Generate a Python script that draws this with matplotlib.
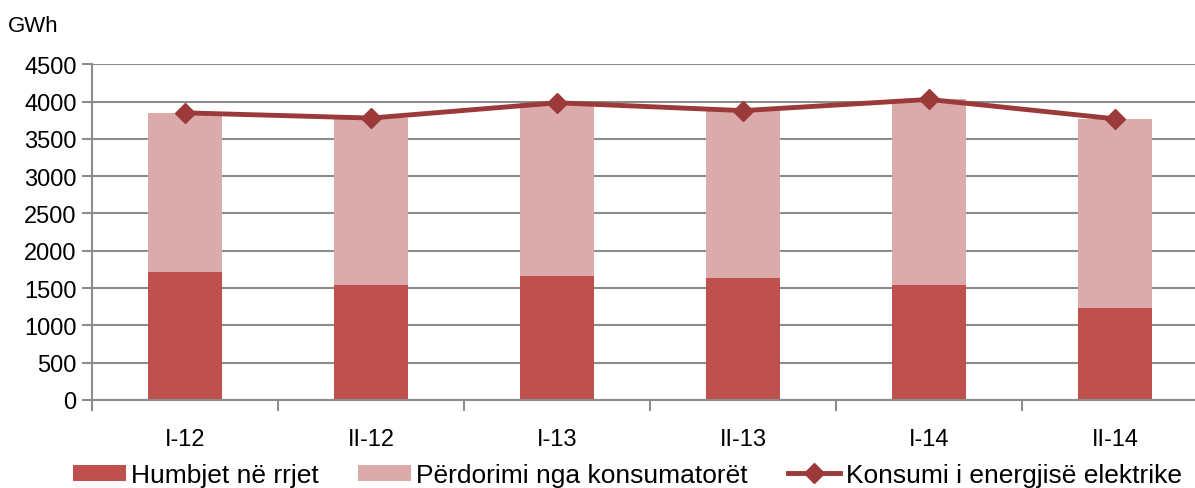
import numpy as np
import matplotlib
matplotlib.use("Agg")
from matplotlib import pyplot as plt

plt.rcParams['font.family'] = ['Liberation Sans', 'DejaVu Sans']

periods = ['I-12', 'II-12', 'I-13', 'II-13', 'I-14', 'II-14']
losses = [1710, 1540, 1665, 1640, 1545, 1230]
total = [3850, 3780, 3985, 3880, 4030, 3770]
usage = [t - l for t, l in zip(total, losses)]

dark = '#C0504D'
light = '#DBAAAA'
line_c = '#9B3A38'
grid_c = '#8C8C8C'

fig = plt.figure(figsize=(11.95, 4.89), dpi=100)
ax = fig.add_axes([92 / 1195, 88.2 / 489, 1116 / 1195, 335.4 / 489])

x = np.arange(len(periods))
b1 = ax.bar(x, losses, width=0.4, color=dark, label='Humbjet në rrjet', zorder=2)
b2 = ax.bar(x, usage, width=0.4, bottom=losses, color=light,
            label='Përdorimi nga konsumatorët', zorder=2)
l1, = ax.plot(x, total, color=line_c, lw=3.5, marker='D', ms=10,
              label='Konsumi i energjisë elektrike', zorder=3)

ax.set_xlim(-0.5, 5.5)
ax.set_ylim(0, 4500)
ax.set_yticks(range(0, 4501, 500))
ax.yaxis.grid(True, color=grid_c, lw=1.5, zorder=0)
ax.set_axisbelow(True)
for s in ['top', 'right']:
    ax.spines[s].set_visible(False)
for s in ['left', 'bottom']:
    ax.spines[s].set_color(grid_c)
    ax.spines[s].set_linewidth(1.5)

ax.set_xticks(x)
ax.set_xticklabels(periods)
ax.set_xticks(np.arange(-0.5, 6.0, 1), minor=True)
ax.tick_params(axis='x', which='major', length=0, pad=20, labelsize=17)
ax.tick_params(axis='x', which='minor', length=8, width=1.5, color=grid_c)
ax.tick_params(axis='y', length=7, width=1.5, color=grid_c, labelsize=17, pad=4)

fig.text(8 / 1195, 1 - 27 / 489, 'GWh', fontsize=16, va='center', ha='left')

fig.legend(handles=[b1, b2, l1], loc='center', bbox_to_anchor=(0.525, 13 / 489),
           ncol=3, frameon=False, fontsize=19, handlelength=2.0, handleheight=0.55,
           handletextpad=0.2, columnspacing=1.5, borderpad=0)

fig.savefig('out.png', dpi=100)
